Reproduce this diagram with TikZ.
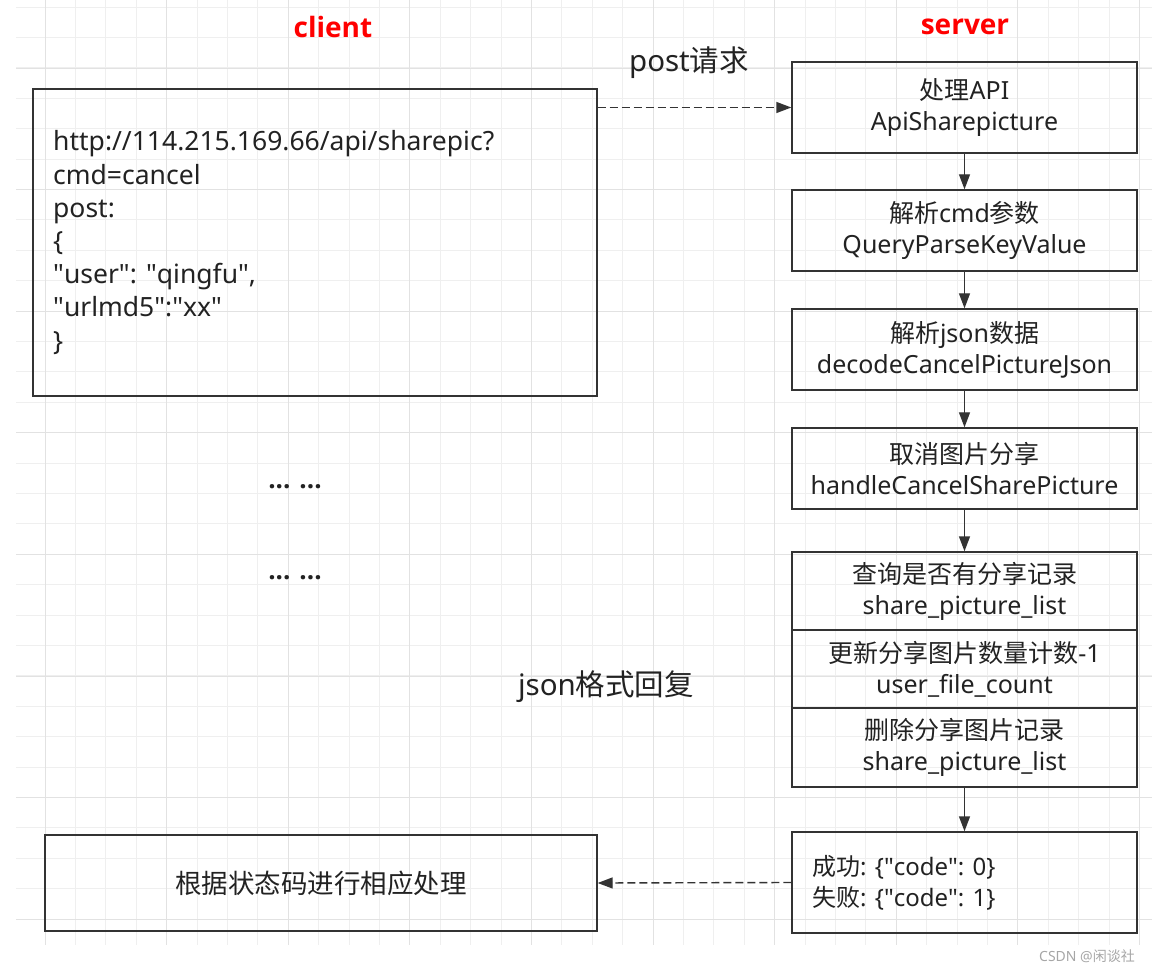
\documentclass[tikz,border=0pt]{standalone}
\usepackage{fontspec}
\setmainfont{Noto Sans}
\newfontfamily\cjk{Noto Sans CJK SC}
\newfontfamily\hdfont{Open Sans}
\newfontfamily\qfont{Noto Sans}
\newcommand{\zh}[1]{{\cjk #1}}
\newcommand{\qq}{{\qfont"}}
\usetikzlibrary{arrows.meta,calc}
\definecolor{linec}{HTML}{333333}
\definecolor{txtc}{HTML}{222222}
\definecolor{gridminor}{HTML}{EFEFEF}
\definecolor{gridmajor}{HTML}{E2E2E2}
\definecolor{hdred}{HTML}{FF0000}
\tikzset{
  sbox/.style={draw=linec, line width=1.4pt, minimum width=345pt, inner sep=0pt,
    align=center, text=txtc, font=\fontsize{25}{31}\selectfont},
  cbox/.style={draw=linec, line width=1.4pt, inner sep=0pt, text=txtc,
    font=\fontsize{26.5}{31}\selectfont},
  plaintext/.style={inner sep=0pt, text=txtc, font=\fontsize{26.5}{33.2}\selectfont, align=left},
  header/.style={inner sep=0pt, text=hdred, font=\hdfont\bfseries\fontsize{28}{34}\selectfont},
  biglabel/.style={inner sep=0pt, text=txtc, font=\fontsize{29.5}{34}\selectfont},
  dotlabel/.style={inner sep=0pt, text=txtc, font=\hdfont\bfseries\fontsize{26}{30}\selectfont},
  flow/.style={draw=linec, line width=1.4pt, -{Triangle[length=15pt,width=11pt]}},
  dflow/.style={flow, dash pattern=on 8pt off 4pt},
}
\begin{document}
\begin{tikzpicture}[x=1pt,y=-1pt]
\useasboundingbox (0,0) rectangle (1152,973);
% grid
\foreach \i in {0,...,36} {
  \pgfmathsetmacro{\xx}{45+30.4*\i}
  \draw[gridminor, line width=0.8pt] (\xx,0) -- (\xx,945);
}
\foreach \i in {0,...,30} {
  \pgfmathsetmacro{\yy}{7+30.4*\i}
  \draw[gridminor, line width=0.8pt] (16,\yy) -- (1152,\yy);
}
\foreach \i in {0,...,9} {
  \pgfmathsetmacro{\xx}{45+121.6*\i}
  \draw[gridmajor, line width=0.8pt] (\xx,0) -- (\xx,945);
}
\foreach \i in {0,...,7} {
  \pgfmathsetmacro{\yy}{68+121.6*\i}
  \draw[gridmajor, line width=0.8pt] (16,\yy) -- (1152,\yy);
}

% headers
\node[header] (hclient) at (333,27) {client};
\node[header] (hserver) at (965,27) {server};
\node[biglabel] (lpost) at (689,63) {post\zh{请求}};
\node[biglabel] (ljson) at (606,687) {json\zh{格式回复}};
\node[dotlabel] (dots1) at (295,487) {... ...};
\node[dotlabel] (dots2) at (295,578) {... ...};

% client boxes
\node[cbox, minimum width=564pt, minimum height=307pt] (creq) at (315,242.5) {};
\node[plaintext, anchor=west] (creqtext) at (53,242.5) {http://114.215.169.66/api/sharepic?\\cmd=cancel\\post:\\\{\\\qq user\qq: \qq qingfu\qq,\\\qq urlmd5\qq:\qq xx\qq\\\}};
\node[cbox, minimum width=552pt, minimum height=96pt] (cres) at (321,883) {\zh{根据状态码进行相应处理}};

% server boxes
\node[sbox, minimum height=91pt] (s1) at (964.5,107.5) {\zh{处理}API\\ApiSharepicture};
\node[sbox, minimum height=81pt] (s2) at (964.5,230.5) {\zh{解析}cmd\zh{参数}\\QueryParseKeyValue};
\node[sbox, minimum height=81pt] (s3) at (964.5,349.5) {\zh{解析}json\zh{数据}\\decodeCancelPictureJson};
\node[sbox, minimum height=81pt] (s4) at (964.5,468.5) {\zh{取消图片分享}\\handleCancelSharePicture};
\node[sbox, minimum height=78pt] (s5) at (964.5,591) {\zh{查询是否有分享记录}\\share\_picture\_list};
\node[sbox, minimum height=78pt] (s6) at (964.5,669) {\zh{更新分享图片数量计数}-1\\user\_file\_count};
\node[sbox, minimum height=79pt] (s7) at (964.5,747.5) {\zh{删除分享图片记录}\\share\_picture\_list};
\node[sbox, minimum height=101pt] (s8) at (964.5,882.5) {};
\node[plaintext, anchor=west, font=\fontsize{24}{31}\selectfont] (s8text) at (812,882.5) {\zh{成功}: \{\qq code\qq: 0\}\\\zh{失败}: \{\qq code\qq: 1\}};

% connectors
\draw[dflow] (creq.east |- s1.west) -- (s1.west);
\draw[flow] (s1.south) -- (s2.north);
\draw[flow] (s2.south) -- (s3.north);
\draw[flow] (s3.south) -- (s4.north);
\draw[flow] (s4.south) -- (s5.north);
\draw[flow] (s7.south) -- (s8.north);
\draw[dflow] (s8.west) -- (cres.east);

% watermark
\node[inner sep=0pt, text=gray!70, font=\fontsize{14}{16}\selectfont] (wm) at (1087,956) {CSDN @\zh{闲谈社}};
\end{tikzpicture}
\end{document}
